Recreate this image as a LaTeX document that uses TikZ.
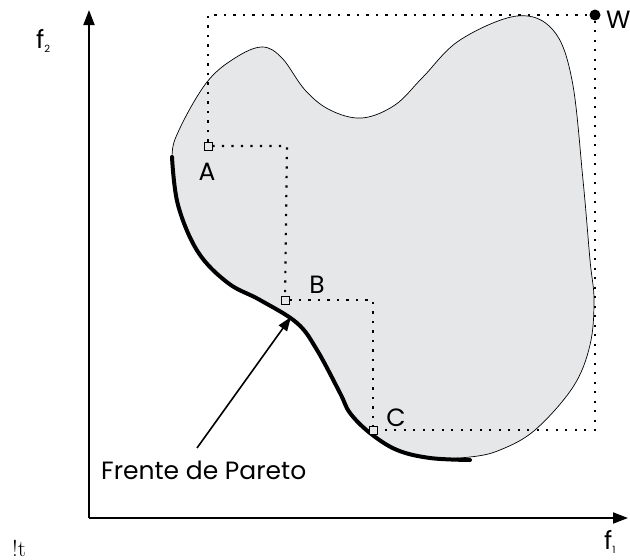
\documentclass[tikz,border=0pt]{standalone}
\usepackage{fontspec}
\setmainfont{Poppins}
\usetikzlibrary{arrows.meta}
\definecolor{blobgray}{RGB}{230,231,233}
\begin{document}
\begin{tikzpicture}[x=1pt,y=-1pt,
  axis/.style={line width=1.8pt,-{Triangle[length=15pt,width=11pt]}},
  dots/.style={line width=2.2pt,dash pattern=on 2.2pt off 7.3pt,line cap=butt},
  ptbox/.style={draw,line width=0.9pt,fill=blobgray,minimum size=8pt,inner sep=0pt,
     path picture={\fill (path picture bounding box.center) circle (1.1pt);}},
  lbl/.style={font=\fontsize{25}{25}\selectfont,inner sep=0pt},
  front/.style={line width=4pt,line cap=round}]
\useasboundingbox (0,0) rectangle (630,560);
% blob
\draw[fill=blobgray,line width=0.7pt] plot[smooth cycle,tension=0.6] coordinates {
 (172,157) (180,128) (207,82) (235,58) (262,47) (282,58) (305,90) (330,110)
 (362,118) (395,105) (423,77) (460,40) (517,16) (553,30) (572,80) (583,180)
 (590,260) (594,300) (590,345) (573,387) (535,430) (500,450) (470,457) (430,458)
 (397,450) (370,433) (350,413) (340,393) (317,350) (297,323) (260,300) (228,283)
 (198,252) (178,205)};
% Pareto front
\draw[front] plot[smooth,tension=0.6] coordinates {
 (172,157) (178,205) (198,252) (228,283) (260,300) (297,323) (317,350) (340,393)
 (350,413) (370,433) (397,450) (430,458) (470,460)};
% axes
\coordinate (O) at (89,518);
\coordinate (ytip) at (89,10);
\coordinate (xtip) at (628,518);
\draw[axis] (O) -- (ytip);
\draw[axis] (O) -- (xtip);
\node[lbl,anchor=base west] (f2) at (36,48) {f\raisebox{-4pt}{\fontsize{10}{10}\selectfont 2}};
\node[lbl,anchor=base west] (f1) at (604,549) {f\raisebox{-4pt}{\fontsize{10}{10}\selectfont 1}};
\node[font=\fontsize{23}{23}\fontspec{Latin Modern Roman}\selectfont,inner sep=0pt,anchor=base west] (bang) at (12,556) {!t};
% corner points
\coordinate (TL) at (208,15);
\node[circle,fill,inner sep=0pt,minimum size=11pt] (W) at (595,15) {};
\coordinate (BR) at (595,430);
\coordinate (AB) at (287,146);
\coordinate (BC) at (373,300);
\node[ptbox] (A) at (208,146) {};
\node[ptbox] (B) at (285,300) {};
\node[ptbox] (C) at (373,430) {};
% dotted lines
\draw[dots] (A) -- (TL) -- (W);
\draw[dots] (W) -- (BR) -- (C);
\draw[dots] (A) -- (AB) -- (B);
\draw[dots] (B) -- (BC) -- (C);
% labels
\node[lbl] (la) at (207,172) {A};
\node[lbl] (lb) at (317,285) {B};
\node[lbl] (lc) at (396,418) {C};
\node[lbl,anchor=west] (lw) at (606,20) {W};
\node[lbl,anchor=base west] (fp) at (101,479) {Frente de Pareto};
\coordinate (fptail) at (197,448);
\coordinate (fphead) at (291,317);
\draw[line width=1.6pt,-{Triangle[length=14pt,width=10pt]}] (fptail) -- (fphead);
\end{tikzpicture}
\end{document}
